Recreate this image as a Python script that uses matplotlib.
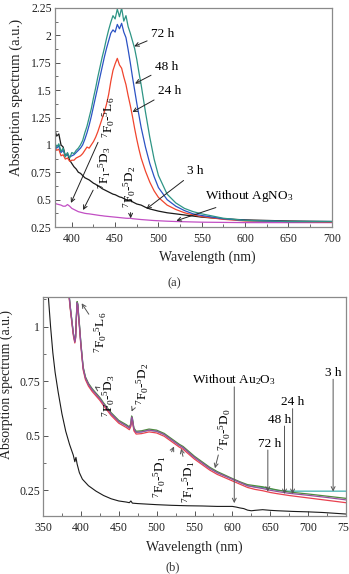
import matplotlib
matplotlib.use("Agg")
import matplotlib.pyplot as plt
from matplotlib.ticker import MultipleLocator

plt.rcParams['font.family'] = ['Liberation Serif', 'DejaVu Serif']
plt.rcParams['mathtext.fontset'] = 'custom'
plt.rcParams['mathtext.rm'] = 'Liberation Serif'
plt.rcParams['mathtext.it'] = 'Liberation Serif:italic'
plt.rcParams['mathtext.bf'] = 'Liberation Serif:bold'

# ---------------- panel (a) data ----------------
wl_a = [380, 382.5, 385, 387.5, 390, 392.5, 395, 397.5, 400, 402.5, 405, 407.5, 410, 412.5,
        415, 417.5, 420, 422.5, 425, 427.5, 430, 432.5, 435, 437.5, 440, 442.5, 445, 447.5,
        450, 452.5, 455, 457.5, 460, 462.5, 465, 467.5, 470, 472.5, 475, 477.5, 480,
        485, 490, 495, 500, 510, 520, 530, 540, 550, 575, 600, 650, 700]

a_72h = [1.03, 0.98, 1.01, 0.94, 0.97, 0.89, 0.93, 0.88, 0.93, 0.92, 0.95, 0.97, 1.00, 1.04,
         1.11, 1.17, 1.25, 1.33, 1.43, 1.52, 1.62, 1.71, 1.80, 1.88, 1.97, 2.05, 2.12, 2.18,
         2.15, 2.24, 2.17, 2.25, 2.13, 2.18, 2.08, 2.02, 1.95, 1.88, 1.78, 1.66, 1.55,
         1.30, 1.07, 0.87, 0.72, 0.55, 0.47, 0.42, 0.39, 0.37, 0.33, 0.31, 0.30, 0.30]

a_48h = [1.01, 0.97, 0.99, 0.93, 0.95, 0.90, 0.91, 0.89, 0.90, 0.91, 0.93, 0.95, 0.97, 1.00,
         1.05, 1.11, 1.18, 1.26, 1.35, 1.44, 1.53, 1.62, 1.71, 1.80, 1.88, 1.95, 2.02, 2.05,
         2.03, 2.10, 2.06, 2.11, 2.03, 1.98, 1.87, 1.75, 1.62, 1.50, 1.38, 1.27, 1.16,
         0.98, 0.83, 0.71, 0.61, 0.50, 0.44, 0.40, 0.37, 0.355, 0.325, 0.31, 0.30, 0.30]

a_24h = [0.99, 0.95, 0.96, 0.90, 0.91, 0.87, 0.88, 0.85, 0.86, 0.86, 0.88, 0.89, 0.90, 0.92,
         0.95, 0.98, 0.97, 1.00, 1.03, 1.07, 1.12, 1.18, 1.24, 1.30, 1.37, 1.46, 1.58, 1.68,
         1.74, 1.79, 1.73, 1.70, 1.62, 1.55, 1.45, 1.36, 1.26, 1.15, 1.05, 0.96, 0.88,
         0.76, 0.66, 0.58, 0.52, 0.45, 0.41, 0.38, 0.36, 0.345, 0.32, 0.305, 0.30, 0.295]

a_3h = [1.15, 1.08, 1.10, 1.00, 0.98, 0.90, 0.92, 0.86, 0.83, 0.80, 0.78, 0.75, 0.74, 0.72,
        0.70, 0.69, 0.68, 0.665, 0.65, 0.64, 0.625, 0.615, 0.60, 0.59, 0.58, 0.57, 0.56, 0.55,
        0.545, 0.535, 0.525, 0.52, 0.51, 0.50, 0.495, 0.50, 0.48, 0.47, 0.46, 0.455, 0.45,
        0.43, 0.415, 0.405, 0.395, 0.38, 0.37, 0.36, 0.35, 0.34, 0.325, 0.315, 0.305, 0.30]

a_noag = [0.47, 0.46, 0.455, 0.45, 0.44, 0.44, 0.455, 0.44, 0.42, 0.41, 0.40, 0.39, 0.385, 0.38,
          0.375, 0.372, 0.37, 0.367, 0.364, 0.361, 0.358, 0.355, 0.353, 0.35, 0.348, 0.346, 0.344, 0.342,
          0.34, 0.338, 0.336, 0.334, 0.332, 0.33, 0.329, 0.33, 0.326, 0.324, 0.322, 0.32, 0.318,
          0.315, 0.312, 0.309, 0.307, 0.303, 0.30, 0.298, 0.296, 0.294, 0.292, 0.29, 0.29, 0.29]

# ---------------- panel (b) data ----------------
wl_b = [384, 386, 388, 390, 392, 393, 394, 395, 396, 397, 398, 400, 403, 406, 410, 415, 420, 425,
        430, 440, 450, 460, 464, 466, 467, 468, 470, 473, 480, 490, 500, 510, 520, 530, 535, 540,
        550, 560, 570, 580, 590, 600, 610, 620, 630, 640, 650, 660, 675, 700, 725, 750]

b_3h = [1.16, 1.09, 1.03, 0.97, 0.93, 0.95, 1.04, 1.11, 1.10, 1.05, 1.01, 0.92, 0.81, 0.765, 0.735, 0.71, 0.69, 0.67,
        0.645, 0.60, 0.565, 0.545, 0.535, 0.55, 0.585, 0.575, 0.53, 0.515, 0.517, 0.525, 0.52, 0.505, 0.48, 0.455, 0.445, 0.43,
        0.40, 0.375, 0.35, 0.33, 0.315, 0.30, 0.285, 0.27, 0.265, 0.262, 0.255, 0.248, 0.245, 0.245, 0.245, 0.245]

b_24h = [1.16, 1.09, 1.03, 0.97, 0.935, 0.955, 1.045, 1.115, 1.105, 1.055, 1.015, 0.925, 0.815, 0.77, 0.74, 0.715, 0.695, 0.675,
         0.65, 0.605, 0.57, 0.55, 0.54, 0.555, 0.59, 0.58, 0.535, 0.52, 0.522, 0.53, 0.525, 0.51, 0.485, 0.46, 0.45, 0.435,
         0.405, 0.38, 0.355, 0.335, 0.319, 0.303, 0.288, 0.275, 0.27, 0.265, 0.257, 0.25, 0.241, 0.232, 0.222, 0.212]

b_48h = [1.16, 1.09, 1.03, 0.97, 0.93, 0.95, 1.04, 1.11, 1.10, 1.05, 1.01, 0.92, 0.81, 0.765, 0.735, 0.71, 0.69, 0.67,
         0.645, 0.60, 0.565, 0.545, 0.535, 0.55, 0.585, 0.575, 0.53, 0.515, 0.517, 0.525, 0.52, 0.505, 0.48, 0.455, 0.445, 0.43,
         0.40, 0.375, 0.35, 0.33, 0.315, 0.30, 0.285, 0.27, 0.263, 0.257, 0.249, 0.243, 0.235, 0.226, 0.216, 0.205]

b_72h = [1.15, 1.08, 1.02, 0.96, 0.925, 0.945, 1.03, 1.10, 1.09, 1.04, 1.00, 0.912, 0.802, 0.757, 0.727, 0.702, 0.682, 0.662,
         0.637, 0.592, 0.557, 0.537, 0.527, 0.542, 0.577, 0.567, 0.522, 0.507, 0.509, 0.517, 0.512, 0.497, 0.472, 0.447, 0.437, 0.422,
         0.392, 0.367, 0.342, 0.322, 0.307, 0.292, 0.277, 0.262, 0.253, 0.247, 0.239, 0.233, 0.225, 0.214, 0.203, 0.192]

wl_k = [357, 360, 363, 366, 370, 375, 380, 385, 390, 392, 393.5, 395, 398, 402, 410, 420, 430, 440,
        450, 460, 464, 466, 468, 475, 490, 500, 520, 540, 560, 580, 600, 605, 610, 615, 620, 625,
        630, 640, 650, 660, 680, 700, 720, 750]
b_noau = [1.14, 1.00, 0.88, 0.79, 0.70, 0.60, 0.52, 0.46, 0.41, 0.38, 0.40, 0.37, 0.33, 0.30, 0.27, 0.245, 0.225, 0.21,
          0.20, 0.195, 0.192, 0.20, 0.19, 0.188, 0.185, 0.183, 0.18, 0.178, 0.177, 0.175, 0.175, 0.172, 0.168, 0.165, 0.158, 0.155,
          0.157, 0.16, 0.157, 0.155, 0.152, 0.15, 0.147, 0.14]

W, H = 349, 574
fig = plt.figure(figsize=(W / 100, H / 100), dpi=100)

spine_c = '#8a8a8a'
arrow_k = dict(arrowstyle='->', color='#222222', lw=0.7, shrinkA=1, shrinkB=0, mutation_scale=7)
arrow_g = dict(arrowstyle='->', color='#555555', lw=0.7, shrinkA=1, shrinkB=0, mutation_scale=7)
tfs = 8.5


def style(ax):
    for s in ax.spines.values():
        s.set_color(spine_c)
        s.set_linewidth(0.9)
    ax.tick_params(axis='both', which='both', direction='in', colors='#555555',
                   labelcolor='#222222', labelsize=tfs)
    ax.tick_params(which='major', length=3.5, width=0.7)
    ax.tick_params(which='minor', length=2, width=0.6)
    ax.tick_params(axis='x', pad=4)
    ax.tick_params(axis='y', pad=2)


# ---------------- panel (a) ----------------
ax1 = fig.add_axes([54.5 / W, 1 - 227 / H, (331.7 - 54.5) / W, 219 / H])
ax1.plot(wl_a, a_noag, color='#c24fc4', lw=0.9)
ax1.plot(wl_a, a_3h, color='#1a1a1a', lw=0.9)
ax1.plot(wl_a, a_24h, color='#f0452e', lw=0.9)
ax1.plot(wl_a, a_48h, color='#2b52c4', lw=0.9)
ax1.plot(wl_a, a_72h, color='#2e9585', lw=0.9)
ax1.set_xlim(380, 700)
ax1.set_ylim(0.25, 2.25)
ax1.set_xticks([400, 450, 500, 550, 600, 650, 700])
ax1.set_yticks([0.25, 0.5, 0.75, 1, 1.25, 1.5, 1.75, 2, 2.25])
ax1.set_yticklabels(['0.25', '0.5', '0.75', '1', '1.25', '1.5', '1.75', '2', '2.25'])
ax1.xaxis.set_minor_locator(MultipleLocator(25))
ax1.yaxis.set_minor_locator(MultipleLocator(0.125))
style(ax1)
ax1.set_xlabel('Wavelength (nm)', fontsize=10, color='#222222')
ax1.set_ylabel('Absorption spectrum (a.u.)', fontsize=10.5, color='#222222')
ax1.xaxis.set_label_coords(0.55, -0.108)
ax1.yaxis.set_label_coords(-0.114, 0.59)

afs = 9.5
ax1.annotate('72 h', xy=(472, 1.90), xytext=(505, 2.01), ha='center', va='center', fontsize=afs, arrowprops=arrow_k)
ax1.annotate('48 h', xy=(473, 1.56), xytext=(509.5, 1.71), ha='center', va='center', fontsize=afs, arrowprops=arrow_k)
ax1.annotate('24 h', xy=(470, 1.30), xytext=(513, 1.49), ha='center', va='center', fontsize=afs, arrowprops=arrow_k)
ax1.annotate('3 h', xy=(486, 0.414), xytext=(543, 0.76), ha='center', va='center', fontsize=afs, arrowprops=arrow_k)
ax1.annotate(r'Without AgNO$\mathregular{_3}$', xy=(520.7, 0.307), xytext=(554, 0.53), ha='left', va='center',
             fontsize=afs, arrowprops=arrow_k)
ax1.annotate(r'$\mathregular{^7F_0}$-$\mathregular{^5L_6}$', xy=(399, 0.47), xytext=(443, 1.06),
             rotation=90, ha='center', va='bottom', fontsize=afs, arrowprops=arrow_k)
ax1.annotate(r'$\mathregular{^7F_1}$-$\mathregular{^5D_3}$', xy=(413, 0.405), xytext=(438, 0.60),
             rotation=90, ha='center', va='bottom', fontsize=afs, arrowprops=arrow_k)
ax1.annotate(r'$\mathregular{^7F_0}$-$\mathregular{^5D_2}$', xy=(468, 0.33), xytext=(467, 0.42),
             rotation=90, ha='center', va='bottom', fontsize=afs, arrowprops=arrow_k)

fig.text(174 / W, 1 - 283 / H, '(a)', ha='center', va='center', fontsize=9, color='#333333')

# ---------------- panel (b) ----------------
ax2 = fig.add_axes([43 / W, 1 - 516 / H, 303 / W, 219 / H])
ax2.plot(wl_k, b_noau, color='#1a1a1a', lw=0.8)
ax2.plot(wl_b, b_3h, color='#3fb0b0', lw=0.9)
ax2.plot(wl_b, b_24h, color='#4d8b3d', lw=0.9)
ax2.plot(wl_b, b_72h, color='#e8414f', lw=0.9)
ax2.plot(wl_b, b_48h, color='#94519e', lw=0.9)
ax2.set_xlim(350, 750)
ax2.set_ylim(0.131, 1.136)
ax2.set_xticks([350, 400, 450, 500, 550, 600, 650, 700, 750])
ax2.set_yticks([0.25, 0.5, 0.75, 1])
ax2.set_yticklabels(['0.25', '0.5', '0.75', '1'])
ax2.xaxis.set_minor_locator(MultipleLocator(25))
ax2.yaxis.set_minor_locator(MultipleLocator(0.125))
style(ax2)
ax2.set_xlabel('Wavelength (nm)', fontsize=10, color='#222222')
ax2.set_ylabel('Absorption spectrum (a.u.)', fontsize=10, color='#222222')
ax2.xaxis.set_label_coords(0.5, -0.11)
ax2.yaxis.set_label_coords(-0.10, 0.60)

ax2.annotate(r'$\mathregular{^7F_0}$-$\mathregular{^5L_6}$', xy=(401, 1.107), xytext=(426, 0.88),
             rotation=90, ha='center', va='bottom', fontsize=afs, arrowprops=arrow_g)
ax2.annotate(r'$\mathregular{^7F_0}$-$\mathregular{^5D_3}$', xy=(418, 0.725), xytext=(437, 0.585),
             rotation=90, ha='center', va='bottom', fontsize=afs, arrowprops=arrow_g)
ax2.annotate(r'$\mathregular{^7F_0}$-$\mathregular{^5D_2}$', xy=(467, 0.61), xytext=(482, 0.64),
             rotation=90, ha='center', va='bottom', fontsize=afs, arrowprops=arrow_g)
ax2.annotate(r'$\mathregular{^7F_0}$-$\mathregular{^5D_1}$', xy=(523, 0.45), xytext=(504.5, 0.214),
             rotation=90, ha='center', va='bottom', fontsize=afs, arrowprops=arrow_g)
ax2.annotate(r'$\mathregular{^7F_1}$-$\mathregular{^5D_1}$', xy=(532.3, 0.44), xytext=(543, 0.19),
             rotation=90, ha='center', va='bottom', fontsize=afs, arrowprops=arrow_g)
ax2.annotate(r'$\mathregular{^7F_0}$-$\mathregular{^5D_0}$', xy=(577, 0.35), xytext=(590, 0.43),
             rotation=90, ha='center', va='bottom', fontsize=afs, arrowprops=arrow_g)

ax2.text(602.5, 0.755, r'Without Au$\mathregular{_2}$O$\mathregular{_3}$', ha='center', va='center', fontsize=afs)
ax2.annotate('', xy=(602.5, 0.19), xytext=(602.5, 0.73), arrowprops=arrow_g)
ax2.text(733, 0.787, '3 h', ha='center', va='center', fontsize=afs)
ax2.annotate('', xy=(733, 0.243), xytext=(733, 0.765), arrowprops=arrow_g)
ax2.text(679, 0.652, '24 h', ha='center', va='center', fontsize=afs)
ax2.annotate('', xy=(679.5, 0.232), xytext=(679.5, 0.63), arrowprops=arrow_g)
ax2.text(661.8, 0.572, '48 h', ha='center', va='center', fontsize=afs)
ax2.annotate('', xy=(668.8, 0.232), xytext=(668.8, 0.55), arrowprops=arrow_g)
ax2.text(649.5, 0.462, '72 h', ha='center', va='center', fontsize=afs)
ax2.annotate('', xy=(646.8, 0.243), xytext=(646.8, 0.44), arrowprops=arrow_g)

fig.text(173 / W, 1 - 567 / H, '(b)', ha='center', va='center', fontsize=9, color='#333333')

fig.savefig('out.png', dpi=100)
